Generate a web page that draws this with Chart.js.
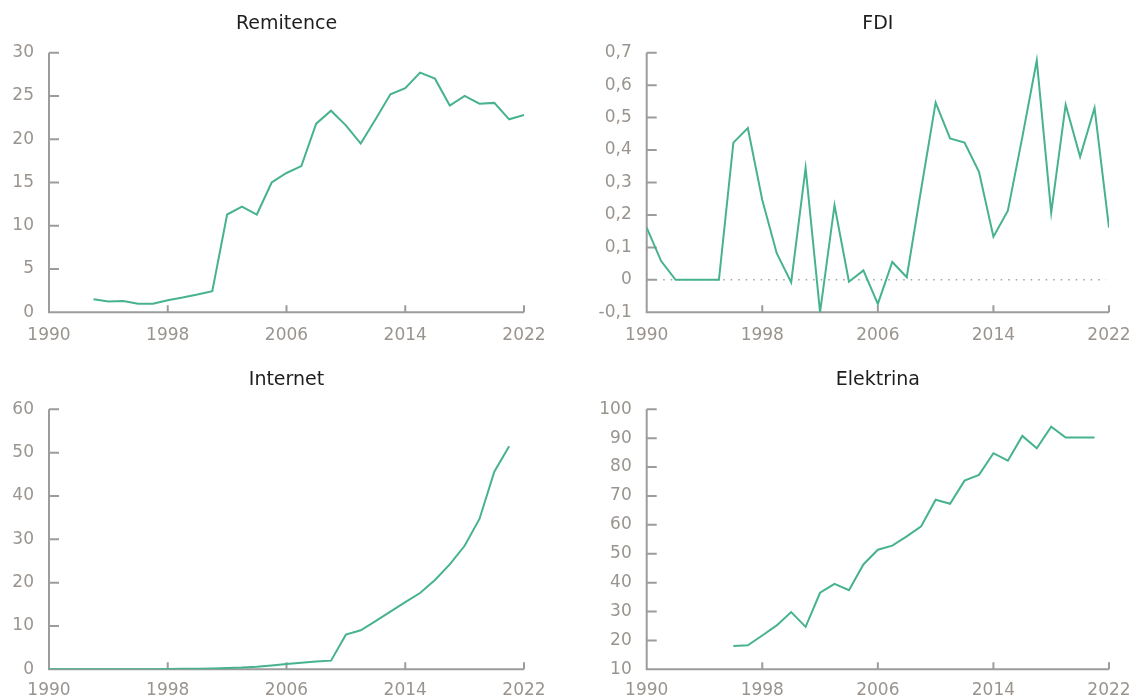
<!DOCTYPE html>
<html><head><meta charset="utf-8">
<script src="https://cdn.jsdelivr.net/npm/chart.js@4"></script>
<style>
html,body{margin:0;padding:0;background:#fff;}
body{width:1138px;height:699px;position:relative;overflow:hidden;}
.box{position:absolute;}
canvas{display:block;}
</style></head><body>
<div class="box" style="left:0;top:0"><canvas id="c1" width="569" height="350"></canvas></div>
<div class="box" style="left:569px;top:0"><canvas id="c2" width="569" height="350"></canvas></div>
<div class="box" style="left:0;top:350px"><canvas id="c3" width="569" height="349"></canvas></div>
<div class="box" style="left:569px;top:350px"><canvas id="c4" width="569" height="349"></canvas></div>
<script>
// ---- data ----
const yearTicks = [1990, 1998, 2006, 2014, 2022];

const remitTitle = 'Remitence';
const remitYears = [1993,1994,1995,1996,1997,1998,1999,2000,2001,2002,2003,2004,2005,2006,2007,2008,2009,2010,2011,2012,2013,2014,2015,2016,2017,2018,2019,2020,2021,2022];
const remitValues = [1.5,1.25,1.3,1.0,1.0,1.4,1.7,2.05,2.45,11.3,12.2,11.3,15.0,16.1,16.9,21.8,23.3,21.6,19.5,22.3,25.2,25.9,27.7,27.0,23.9,25.0,24.1,24.2,22.3,22.8];
const remitTicks = [0, 5, 10, 15, 20, 25, 30];

const fdiTitle = 'FDI';
const fdiYears = [1990,1991,1992,1993,1994,1995,1996,1997,1998,1999,2000,2001,2002,2003,2004,2005,2006,2007,2008,2009,2010,2011,2012,2013,2014,2015,2016,2017,2018,2019,2020,2021,2022];
const fdiValues = [0.161,0.058,0,0,0,0,0.423,0.468,0.246,0.082,-0.008,0.345,-0.1,0.23,-0.006,0.029,-0.074,0.055,0.008,0.28,0.546,0.436,0.423,0.333,0.133,0.213,0.44,0.676,0.207,0.54,0.379,0.53,0.161];
const fdiTicks = [-0.1, 0, 0.1, 0.2, 0.3, 0.4, 0.5, 0.6, 0.7];

const internetTitle = 'Internet';
const internetYears = [1990,1991,1992,1993,1994,1995,1996,1997,1998,1999,2000,2001,2002,2003,2004,2005,2006,2007,2008,2009,2010,2011,2012,2013,2014,2015,2016,2017,2018,2019,2020,2021];
const internetValues = [0,0,0,0,0,0,0,0.02,0.05,0.1,0.15,0.2,0.3,0.4,0.6,0.9,1.2,1.5,1.8,2.0,8.0,9.0,11.1,13.3,15.5,17.6,20.6,24.2,28.5,34.7,45.6,51.5];
const internetTicks = [0, 10, 20, 30, 40, 50, 60];

const elecTitle = 'Elektrina';
const elecYears = [1996,1997,1998,1999,2000,2001,2002,2003,2004,2005,2006,2007,2008,2009,2010,2011,2012,2013,2014,2015,2016,2017,2018,2019,2020,2021];
const elecValues = [18.1,18.3,21.7,25.2,29.8,24.7,36.5,39.6,37.4,46.3,51.4,52.8,56.0,59.5,68.7,67.3,75.3,77.3,84.8,82.2,90.8,86.5,94.0,90.2,90.2,90.2];
const elecTicks = [10, 20, 30, 40, 50, 60, 70, 80, 90, 100];

// ---- styling ----
const FONT = "'DejaVu Sans', Verdana, sans-serif";
const LINE_COLOR = '#47b38d';
const AXIS_COLOR = '#9c9c9c';
const TICK_COLOR = '#9a948f';
Chart.defaults.font.family = FONT;

const axisPlugin = {
  id: 'inwardAxes',
  beforeDatasetsDraw(chart, args, opts) {
    const {ctx, chartArea: a, scales: {x, y}} = chart;
    ctx.save();
    if (opts.zeroLine) {
      const zy = y.getPixelForValue(0);
      ctx.strokeStyle = '#a0a0a0';
      ctx.lineWidth = 1.5;
      ctx.setLineDash([1.5, 6]);
      ctx.beginPath();
      ctx.moveTo(a.left + 9, zy);
      ctx.lineTo(a.right - 3, zy);
      ctx.stroke();
      ctx.setLineDash([]);
    }
    ctx.strokeStyle = AXIS_COLOR;
    ctx.lineWidth = 2;
    ctx.beginPath();
    ctx.moveTo(a.left, a.top);
    ctx.lineTo(a.left, a.bottom);
    ctx.lineTo(a.right, a.bottom);
    y.ticks.forEach(t => {
      const py = y.getPixelForValue(t.value);
      if (Math.abs(py - a.bottom) > 1) { ctx.moveTo(a.left, py); ctx.lineTo(a.left + 10, py); }
    });
    x.ticks.forEach(t => {
      const px = x.getPixelForValue(t.value);
      if (Math.abs(px - a.left) > 1) { ctx.moveTo(px, a.bottom); ctx.lineTo(px, a.bottom - 7); }
    });
    ctx.stroke();
    ctx.restore();
  }
};

function makeChart(id, title, years, values, yTicks, cfg) {
  const fmt = cfg.comma
    ? (v => v === 0 ? '0' : v.toFixed(1).replace('.', ','))
    : (v => String(v));
  return new Chart(document.getElementById(id), {
    type: 'line',
    data: {
      datasets: [{
        data: years.map((yr, i) => ({x: yr, y: values[i]})),
        borderColor: LINE_COLOR,
        borderWidth: 2,
        pointRadius: 0,
        tension: 0,
        fill: false
      }]
    },
    options: {
      responsive: false,
      animation: false,
      devicePixelRatio: 1,
      layout: {padding: {left: 0, right: cfg.padRight, top: 0, bottom: 0}},
      plugins: {
        legend: {display: false},
        tooltip: {enabled: false},
        title: {
          display: true,
          text: title,
          fullSize: false,
          color: '#1e1e1e',
          font: {family: FONT, size: 19, weight: 'normal', lineHeight: 1.2},
          padding: {top: cfg.titleTop, bottom: cfg.titleBottom}
        },
        inwardAxes: {zeroLine: !!cfg.zeroLine}
      },
      scales: {
        x: {
          type: 'linear',
          min: 1990,
          max: 2022,
          grid: {display: false, drawTicks: false},
          border: {display: false},
          afterBuildTicks: s => { s.ticks = yearTicks.map(v => ({value: v})); },
          afterFit: s => { s.height = cfg.xHeight; s.paddingLeft = 0; s.paddingRight = 0; },
          ticks: {
            autoSkip: false, maxRotation: 0, minRotation: 0,
            color: TICK_COLOR, padding: cfg.xPad,
            font: {family: FONT, size: 17},
            callback: v => String(v)
          }
        },
        y: {
          min: yTicks[0],
          max: yTicks[yTicks.length - 1],
          grid: {display: false, drawTicks: false},
          border: {display: false},
          afterBuildTicks: s => { s.ticks = yTicks.map(v => ({value: v})); },
          afterFit: s => { s.width = cfg.yWidth; s.paddingTop = 0; s.paddingBottom = 0; },
          ticks: {
            autoSkip: false,
            color: TICK_COLOR, padding: 15,
            font: {family: FONT, size: 17},
            callback: fmt
          }
        }
      }
    },
    plugins: [axisPlugin]
  });
}

makeChart('c1', remitTitle, remitYears, remitValues, remitTicks,
  {padRight: 45, yWidth: 49, xHeight: 37.7, titleTop: 12.6, titleBottom: 17.3, xPad: 13});
makeChart('c2', fdiTitle, fdiYears, fdiValues, fdiTicks,
  {padRight: 29, yWidth: 77.7, xHeight: 37.7, titleTop: 12.6, titleBottom: 17.3, xPad: 13, comma: true, zeroLine: true});
makeChart('c3', internetTitle, internetYears, internetValues, internetTicks,
  {padRight: 45, yWidth: 49, xHeight: 29.7, titleTop: 18.9, titleBottom: 17.6, xPad: 11});
makeChart('c4', elecTitle, elecYears, elecValues, elecTicks,
  {padRight: 29, yWidth: 77.7, xHeight: 29.7, titleTop: 18.9, titleBottom: 17.6, xPad: 11});
</script>
</body></html>
